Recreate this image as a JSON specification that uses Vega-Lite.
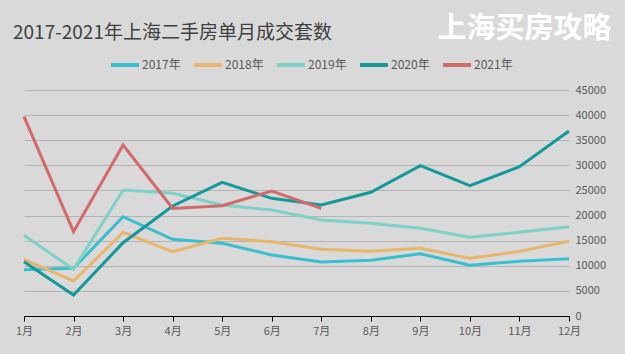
{
  "$schema": "https://vega.github.io/schema/vega-lite/v6.json",
  "width": 545,
  "height": 226,
  "autosize": {"type": "none"},
  "padding": {"left": 24, "top": 90, "right": 56, "bottom": 38},
  "background": "#d9d9d9",
  "title": {
    "text": "2017-2021年上海二手房单月成交套数",
    "anchor": "start",
    "frame": "group",
    "dx": -11,
    "offset": -28,
    "font": "Noto Sans CJK SC",
    "fontSize": 19,
    "fontWeight": "normal",
    "color": "#404040"
  },
  "config": {
    "view": {"stroke": null},
    "font": "Noto Sans CJK SC"
  },
  "datasets": {
    "sales": [
      {"month": "1月", "year": "2017年", "count": 9200},
      {"month": "2月", "year": "2017年", "count": 9500},
      {"month": "3月", "year": "2017年", "count": 19770},
      {"month": "4月", "year": "2017年", "count": 15270},
      {"month": "5月", "year": "2017年", "count": 14470},
      {"month": "6月", "year": "2017年", "count": 12150},
      {"month": "7月", "year": "2017年", "count": 10750},
      {"month": "8月", "year": "2017年", "count": 11080},
      {"month": "9月", "year": "2017年", "count": 12400},
      {"month": "10月", "year": "2017年", "count": 10090},
      {"month": "11月", "year": "2017年", "count": 10890},
      {"month": "12月", "year": "2017年", "count": 11410},
      {"month": "1月", "year": "2018年", "count": 11290},
      {"month": "2月", "year": "2018年", "count": 6970},
      {"month": "3月", "year": "2018年", "count": 16660},
      {"month": "4月", "year": "2018年", "count": 12800},
      {"month": "5月", "year": "2018年", "count": 15470},
      {"month": "6月", "year": "2018年", "count": 14800},
      {"month": "7月", "year": "2018年", "count": 13270},
      {"month": "8月", "year": "2018年", "count": 12870},
      {"month": "9月", "year": "2018年", "count": 13470},
      {"month": "10月", "year": "2018年", "count": 11480},
      {"month": "11月", "year": "2018年", "count": 12870},
      {"month": "12月", "year": "2018年", "count": 14870},
      {"month": "1月", "year": "2019年", "count": 16060},
      {"month": "2月", "year": "2019年", "count": 9290},
      {"month": "3月", "year": "2019年", "count": 25090},
      {"month": "4月", "year": "2019年", "count": 24430},
      {"month": "5月", "year": "2019年", "count": 22100},
      {"month": "6月", "year": "2019年", "count": 21100},
      {"month": "7月", "year": "2019年", "count": 19110},
      {"month": "8月", "year": "2019年", "count": 18450},
      {"month": "9月", "year": "2019年", "count": 17460},
      {"month": "10月", "year": "2019年", "count": 15670},
      {"month": "11月", "year": "2019年", "count": 16660},
      {"month": "12月", "year": "2019年", "count": 17780},
      {"month": "1月", "year": "2020年", "count": 10820},
      {"month": "2月", "year": "2020年", "count": 4180},
      {"month": "3月", "year": "2020年", "count": 14600},
      {"month": "4月", "year": "2020年", "count": 21900},
      {"month": "5月", "year": "2020年", "count": 26620},
      {"month": "6月", "year": "2020年", "count": 23430},
      {"month": "7月", "year": "2020年", "count": 22100},
      {"month": "8月", "year": "2020年", "count": 24630},
      {"month": "9月", "year": "2020年", "count": 29930},
      {"month": "10月", "year": "2020年", "count": 25950},
      {"month": "11月", "year": "2020年", "count": 29730},
      {"month": "12月", "year": "2020年", "count": 36840},
      {"month": "1月", "year": "2021年", "count": 39690},
      {"month": "2月", "year": "2021年", "count": 16790},
      {"month": "3月", "year": "2021年", "count": 34050},
      {"month": "4月", "year": "2021年", "count": 21430},
      {"month": "5月", "year": "2021年", "count": 21970},
      {"month": "6月", "year": "2021年", "count": 24890},
      {"month": "7月", "year": "2021年", "count": 21430}
    ],
    "mark": [
      {"label": "上海买房攻略", "month": "11月", "level": 57100}
    ]
  },
  "encoding": {
    "x": {
      "field": "month",
      "type": "ordinal",
      "sort": null,
      "scale": {"type": "point", "padding": 0, "domain": ["1月","2月","3月","4月","5月","6月","7月","8月","9月","10月","11月","12月"]},
      "axis": {
        "title": null,
        "labelAngle": 0,
        "labelFontSize": 11,
        "labelColor": "#595959",
        "labelPadding": 4,
        "domainColor": "#000000",
        "domainWidth": 1,
        "tickColor": "#000000",
        "tickSize": 5,
        "grid": false
      }
    },
    "y": {
      "field": "count",
      "type": "quantitative",
      "scale": {"domain": [0, 45000], "nice": false, "zero": true},
      "axis": {
        "orient": "right",
        "title": null,
        "values": [0,5000,10000,15000,20000,25000,30000,35000,40000,45000],
        "format": "d",
        "labelFontSize": 11,
        "labelColor": "#595959",
        "labelPadding": 6,
        "labelOverlap": false,
        "labelBound": false,
        "labelFlush": false,
        "domain": false,
        "ticks": false,
        "grid": true,
        "gridColor": "#b4b4b4",
        "gridWidth": 1
      }
    }
  },
  "layer": [
    {
      "data": {"name": "sales"},
      "mark": {"type": "line", "strokeWidth": 3, "strokeJoin": "miter"},
      "encoding": {
        "color": {
          "field": "year",
          "type": "nominal",
          "scale": {
            "domain": ["2017年","2018年","2019年","2020年","2021年"],
            "range": ["#37bfcf","#e7b66c","#7dd1c5","#14989a","#d26a6a"]
          },
          "legend": {
            "title": null,
            "orient": "none",
            "direction": "horizontal",
            "legendX": 85,
            "legendY": -41,
            "symbolType": "stroke",
            "symbolSize": 784,
            "symbolStrokeWidth": 4,
            "labelFontSize": 12,
            "labelColor": "#595959",
            "labelOffset": 1,
            "columnPadding": 5
          }
        }
      }
    },
    {
      "data": {"name": "mark"},
      "mark": {"type": "text", "fontSize": 29, "fontWeight": "bold", "color": "#ffffff", "align": "center", "baseline": "middle", "dx": 5, "clip": false},
      "encoding": {
        "y": {"field": "level"},
        "text": {"field": "label"}
      }
    }
  ]
}
